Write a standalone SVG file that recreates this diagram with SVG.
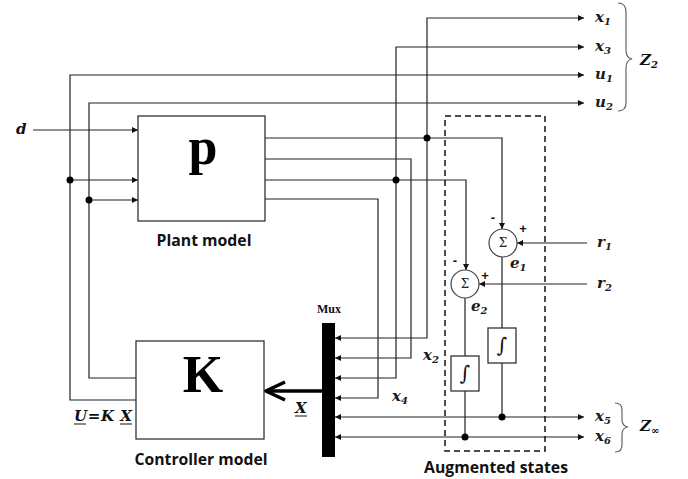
<svg xmlns="http://www.w3.org/2000/svg" width="688" height="479" viewBox="0 0 688 479">
<style>
.ln{fill:none;stroke:#222;stroke-width:1.2}
.box{fill:#fff;stroke:#333;stroke-width:1.3}
.dot{fill:#000}
.m{font-family:"DejaVu Serif","Liberation Serif",serif;font-style:italic;font-weight:bold;font-size:15px;fill:#1a1a1a}
.mb{font-family:"DejaVu Serif","Liberation Serif",serif;font-style:italic;font-weight:bold;font-size:15px;fill:#111}
.sub{font-size:10px}
.cap{font-family:"Open Sans","Liberation Sans",sans-serif;font-weight:bold;font-size:15.5px;fill:#111;text-anchor:middle}
.big{font-family:"Liberation Serif","DejaVu Serif",serif;font-weight:bold;font-size:52px;fill:#000;text-anchor:middle}
.sg{font-family:"Liberation Sans",sans-serif;font-weight:bold;font-size:13px;fill:#111;text-anchor:middle}
.sym{font-family:"DejaVu Serif","Liberation Serif",serif;font-size:12px;fill:#222;text-anchor:middle}
</style>
<defs>
<marker id="ah" viewBox="0 0 10 10" refX="10" refY="5" markerWidth="7" markerHeight="6" markerUnits="userSpaceOnUse" orient="auto-start-reverse">
<path d="M0,0 L10,5 L0,10 Z" fill="#111"/>
</marker>
</defs>

<g id="connectors">
<path class="ln" d="M33,130 H138" marker-end="url(#ah)"/>
<path class="ln" d="M136,400 H70 V75 H584" marker-end="url(#ah)"/>
<path class="ln" d="M136,378 H89 V103 H584" marker-end="url(#ah)"/>
<path class="ln" d="M70,180 H138" marker-end="url(#ah)"/>
<path class="ln" d="M89,200 H138" marker-end="url(#ah)"/>
<path class="ln" d="M265,138 H502 V229" marker-end="url(#ah)"/>
<path class="ln" d="M265,159 H411 V358 H335" marker-end="url(#ah)"/>
<path class="ln" d="M265,180 H466 V270" marker-end="url(#ah)"/>
<path class="ln" d="M265,199 H378 V398 H335" marker-end="url(#ah)"/>
<path class="ln" d="M427,138 V18 H584" marker-end="url(#ah)"/>
<path class="ln" d="M427,138 V338 H335" marker-end="url(#ah)"/>
<path class="ln" d="M396,180 V47 H584" marker-end="url(#ah)"/>
<path class="ln" d="M396,180 V378 H335" marker-end="url(#ah)"/>
<path class="ln" d="M587,243 H517" marker-end="url(#ah)"/>
<path class="ln" d="M587,284 H479" marker-end="url(#ah)"/>
<path class="ln" d="M502,257 V328 M502,363 V417"/>
<path class="ln" d="M465,298 V356 M465,391 V437"/>
<path class="ln" d="M335,417 H584" marker-start="url(#ah)" marker-end="url(#ah)"/>
<path class="ln" d="M335,437 H584" marker-start="url(#ah)" marker-end="url(#ah)"/>
<path d="M322,391 H268" fill="none" stroke="#000" stroke-width="3.5"/>
<path d="M285,382 L266,391 L285,400" fill="none" stroke="#000" stroke-width="3.5" stroke-linejoin="miter"/>
<circle class="dot" cx="70" cy="180" r="3.5"/>
<circle class="dot" cx="89" cy="200" r="3.5"/>
<circle class="dot" cx="427" cy="138" r="3.5"/>
<circle class="dot" cx="396" cy="180" r="3.5"/>
<circle class="dot" cx="502" cy="417" r="3.5"/>
<circle class="dot" cx="465" cy="437" r="3.5"/>
</g>

<g id="augmented-states">
<rect x="445" y="116" width="100" height="335" fill="none" stroke="#111" stroke-width="1.5" stroke-dasharray="6,4"/>
<text class="cap" x="496" y="473" textLength="144" lengthAdjust="spacingAndGlyphs">Augmented states</text>
</g>

<g id="plant">
<rect class="box" x="138" y="116" width="127" height="105"/>
<text class="big" x="203" y="164">p</text>
<text class="cap" x="204" y="246" textLength="95" lengthAdjust="spacingAndGlyphs">Plant model</text>
</g>

<g id="controller">
<rect class="box" x="136" y="341" width="128" height="98"/>
<text class="big" x="203" y="392">K</text>
<text class="cap" x="201" y="465" textLength="133" lengthAdjust="spacingAndGlyphs">Controller model</text>
</g>

<g id="mux">
<rect x="322" y="323" width="13" height="134" fill="#000"/>
<text x="329" y="313" font-family="Liberation Serif,serif" font-weight="bold" font-size="12" text-anchor="middle" fill="#111">Mux</text>
</g>

<g id="sum1">
<circle cx="503" cy="243" r="14" fill="#fff" stroke="#444" stroke-width="1.2"/>
<text class="sym" x="503" y="247">Σ</text>
<text class="sg" x="493" y="222">-</text>
<text class="sg" x="523" y="233">+</text>
</g>
<g id="sum2">
<circle cx="465" cy="284" r="14" fill="#fff" stroke="#444" stroke-width="1.2"/>
<text class="sym" x="465" y="288">Σ</text>
<text class="sg" x="455" y="265">-</text>
<text class="sg" x="485" y="280">+</text>
</g>
<g id="int1">
<rect class="box" x="488" y="328" width="28" height="35"/>
<text x="502" y="352" font-family="DejaVu Serif,serif" font-size="20" text-anchor="middle" fill="#111">∫</text>
</g>
<g id="int2">
<rect class="box" x="451" y="356" width="28" height="35"/>
<text x="465" y="380" font-family="DejaVu Serif,serif" font-size="20" text-anchor="middle" fill="#111">∫</text>
</g>

<g id="braces">
<path d="M618,3 Q626,3 626,12 V50 Q626,58 632,59 Q626,60 626,68 V103 Q626,111 618,111" fill="none" stroke="#666" stroke-width="1.2"/>
<path d="M615,403 Q622,403 622,410 V420 Q622,426 628,427 Q622,428 622,434 V445 Q622,452 615,452" fill="none" stroke="#666" stroke-width="1.2"/>
</g>

<g id="labels">
<text class="mb" x="16" y="134">d</text>
<text class="m" x="595" y="22">x<tspan class="sub" dy="3">1</tspan></text>
<text class="m" x="595" y="51">x<tspan class="sub" dy="3">3</tspan></text>
<text class="m" x="595" y="79">u<tspan class="sub" dy="3">1</tspan></text>
<text class="m" x="595" y="107">u<tspan class="sub" dy="3">2</tspan></text>
<text class="mb" x="640" y="65" font-size="16">Z<tspan class="sub" dy="3">2</tspan></text>
<text class="m" x="597" y="247">r<tspan class="sub" dy="3">1</tspan></text>
<text class="m" x="597" y="288">r<tspan class="sub" dy="3">2</tspan></text>
<text class="m" x="510" y="268">e<tspan class="sub" dy="3">1</tspan></text>
<text class="m" x="471" y="311">e<tspan class="sub" dy="3">2</tspan></text>
<text class="m" x="423" y="360">x<tspan class="sub" dy="3">2</tspan></text>
<text class="m" x="392" y="401">x<tspan class="sub" dy="3">4</tspan></text>
<text class="m" x="595" y="421">x<tspan class="sub" dy="3">5</tspan></text>
<text class="m" x="595" y="441">x<tspan class="sub" dy="3">6</tspan></text>
<text class="mb" x="640" y="431" font-size="16">Z<tspan class="sub" dy="3">∞</tspan></text>
<text class="mb" x="295" y="413">X</text>
<path d="M295,416 H307" stroke="#111" stroke-width="1"/>
<text class="mb" x="74" y="421" textLength="58" lengthAdjust="spacing">U=K X</text>
<path d="M74,424 H86 M120,424 H132" stroke="#111" stroke-width="1"/>
</g>
</svg>
